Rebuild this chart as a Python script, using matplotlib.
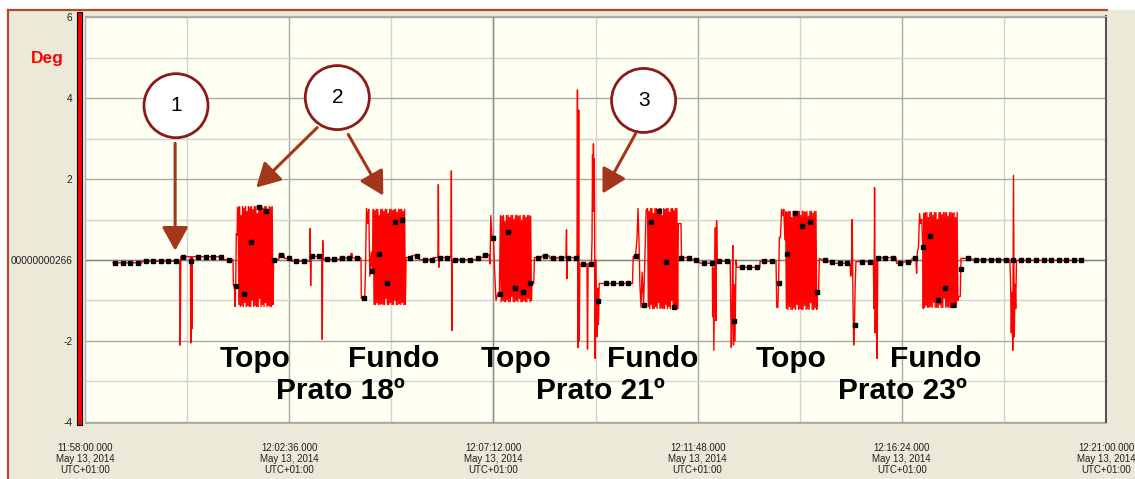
import numpy as np
import matplotlib
matplotlib.use('Agg')
import matplotlib.pyplot as plt
from matplotlib.patches import Rectangle, Ellipse
from matplotlib.lines import Line2D

plt.rcParams['font.family'] = ['Liberation Sans', 'DejaVu Sans']

# time in seconds after 11:58:00, value in Deg
seg_a = [(38, -0.07), (77, -0.07), (77.5, -0.03), (128, -0.03), (128.7, -2.10), (129.5, 0.08),
         (142.5, 0.08), (143, -2.05), (143.8, 0.08), (144.5, -1.70), (145.2, 0.08), (185, 0.08),
         (185.5, 0.01), (200, 0.01), (200.6, -0.63), (202, -0.65), (203, -1.15), (203.8, -0.50),
         (204.5, 0.65), (205.5, 0.60), (206.2, 1.30)]
seg_b = [(255, 0.01), (262, 0.01), (262.5, 0.13), (269, 0.13), (269.5, 0.04), (279, 0.04),
         (279.5, -0.03), (304, -0.03), (304.4, 0.78), (305, -0.63), (305.6, 0.09), (320, 0.09),
         (320.7, -1.96), (321.3, 0.48), (322, 0.02), (344, 0.02), (344.5, 0.05), (359, 0.05),
         (359.5, 0.16), (361, 0.16), (361.5, 0.05), (373, 0.05), (373.5, -0.95), (378, -0.95),
         (379, -0.30), (380.5, 1.27), (382, 0.90), (383.5, 1.25), (385, -0.40), (387, 0.20),
         (388.5, -0.26)]
seg_c = [(434, 0.06), (441, 0.06), (441.5, 0.11), (451, 0.11), (451.5, 0.01), (470, 0.01),
         (470.5, 0.06), (477, 0.06), (477.6, 1.86), (478.2, -0.18), (478.8, 0.06), (494.5, 0.06),
         (495.2, 2.20), (495.9, -1.74), (496.6, 0.01), (530, 0.01), (531, 0.06), (538, 0.06),
         (538.5, 0.13), (546, 0.13), (547.5, -0.10), (548.5, 1.10), (550, 0.55), (552, 0.55),
         (553.5, -0.20), (555.5, -1.00), (558, -0.83), (560, -0.90)]
seg_d = [(604, -0.58), (606.5, -0.58), (607.5, 0.06), (617, 0.06), (617.5, 0.10), (628, 0.10),
         (628.5, 0.04), (638, 0.04), (638.5, 0.06), (650, 0.06), (650.8, 0.75), (651.4, -0.46),
         (652, 0.06), (665, 0.06), (665.6, 4.20), (666.3, -2.16), (667.3, 3.70), (668, -2.00),
         (668.8, -0.10), (678.5, -0.10), (679.2, -2.20), (680, -0.09), (684.5, -0.09), (685.3, 0.50),
         (686, 2.60), (686.6, 1.20), (687.2, 2.87), (687.8, 1.80), (688.4, 2.50), (689, 0.30),
         (689.6, -2.43), (690.2, 0.00), (691, -1.00), (692, -1.90), (693, -0.70), (694, -1.60),
         (695, -0.58), (740, -0.58), (741, 0.09), (744, 0.09), (746, 0.50), (747.5, 1.27),
         (749, 0.30), (750, -0.60), (751.5, -1.17), (753, -0.30), (755, -1.10), (757, 0.20),
         (758.5, 1.25)]
seg_e = [(802, 0.90), (805.5, 0.90), (806.3, 0.06), (814, 0.06), (815, 0.03), (825, 0.01),
         (832, -0.08), (848, -0.08), (848.3, -1.40), (849, -0.20), (850, -2.23), (851, -0.30),
         (852, 0.80), (853, -1.50), (853.7, 0.97), (854.5, -0.03), (872, -0.03), (872.7, -1.00),
         (873.5, -2.16), (874.5, -1.50), (875.5, 0.36), (876.5, -2.10), (877.5, -0.60), (878.5, -2.00),
         (880, 0.00), (881, -0.18), (912, -0.18), (912.5, -0.03), (934, -0.03), (935, -1.17),
         (936.5, -1.17), (937.5, -0.58), (938.5, 0.56), (940, 0.56), (941.5, 1.25), (943, 1.10),
         (944.5, 1.25), (946, 0.50)]
seg_f = [(990, -0.80), (991.5, -0.80), (992.5, 0.04), (997, 0.00), (1005, -0.04), (1012, -0.08),
         (1034, -0.08), (1035, -0.40), (1036, -0.20), (1037, 1.00), (1038, -1.00), (1039, -2.10),
         (1040, -1.61), (1041, -0.60), (1042, -0.04), (1065.5, -0.04), (1066.5, -1.20), (1067.2, 1.79),
         (1068, -1.80), (1069, -0.40), (1070, 0.04), (1070.7, -2.43), (1071.5, 0.06), (1096, 0.06),
         (1097, -0.08), (1105, -0.08), (1106, -0.05), (1117, -0.05), (1118, 0.04), (1123, 0.04),
         (1124, -0.33), (1125, 0.20), (1126.5, 0.31), (1128, 1.15), (1129.5, 0.90), (1131, 1.00),
         (1132.4, 0.31), (1133, -1.20)]
seg_g = [(1181, -0.90), (1183, -0.90), (1184, 0.04), (1198, 0.04), (1199, 0.01), (1250, 0.01),
         (1251, -0.50), (1252, -1.80), (1253, -0.80), (1254, -2.23), (1255, 2.09), (1256, -1.90),
         (1257, -0.60), (1258, -1.20), (1259, -0.01), (1349, -0.01)]

# oscillation bursts (Topo / Fundo), start/end seconds and sample values
burst_spans = [(207, 254), (389.7, 433), (561.5, 603.4), (760.4, 801), (947, 989), (1133.8, 1179.8)]
b1 = [1.30, -1.10, 1.32, -1.15, 1.10, -1.12, 1.32, -1.15, 1.28, -1.05, 1.32, -1.15, 1.20, -1.13,
      1.32, -1.15, 1.30, -1.15, 1.32, -1.00, 1.25, -1.15, 1.32, -1.12, 1.32, -1.15, 1.15, -1.15,
      1.32, -0.95, 1.30, -1.15, 1.32, -1.10, 1.28, -1.15, 1.32, -1.05, 1.32, -1.15, 1.25, -1.12,
      1.32, -1.15, 1.30, -1.15, 1.32, -1.10]
b2 = [1.25, -1.10, 1.22, -1.10, 1.25, -1.05, 1.25, -1.10, 1.10, -1.10, 1.25, -1.08, 1.25, -1.10,
      1.20, -1.10, 1.25, -0.95, 1.25, -1.10, 1.15, -1.10, 1.25, -1.05, 1.25, -1.10, 1.22, -1.10,
      1.25, -1.00, 1.25, -1.10, 1.18, -1.10, 1.25, -1.08, 1.25, -1.10, 1.25, -1.05, 1.20, -1.10,
      1.25, -1.10]
b3 = [1.10, -1.03, 1.08, -1.00, 1.10, -1.03, 0.95, -1.03, 1.10, -0.98, 1.10, -1.03, 1.05, -1.03,
      1.10, -0.90, 1.10, -1.03, 1.00, -1.03, 1.10, -1.00, 1.10, -1.03, 1.08, -0.95, 1.10, -1.03,
      0.98, -1.03, 1.10, -1.00, 1.10, -1.03, 1.05, -1.03, 1.10, -0.95, 1.10, -1.03, 1.08, -1.00]
b4 = [1.27, -1.15, 1.20, -1.20, 1.27, -1.10, 1.27, -1.20, 1.15, -1.20, 1.27, -1.15, 1.27, -1.20,
      1.22, -1.05, 1.27, -1.20, 1.27, -1.18, 1.10, -1.20, 1.27, -1.20, 1.25, -1.10, 1.27, -1.20,
      1.27, -1.15, 1.18, -1.20, 1.27, -1.00, 1.27, -1.20, 1.22, -1.20, 1.27, -1.15, 1.27, -1.20]
b5 = [1.20, -1.20, 1.18, -1.22, 1.20, -1.15, 1.20, -1.22, 1.05, -1.22, 1.20, -1.18, 1.20, -1.22,
      1.15, -1.10, 1.20, -1.22, 1.20, -1.20, 1.10, -1.22, 1.20, -1.22, 1.20, -1.12, 1.18, -1.22,
      1.20, -1.20, 1.08, -1.22, 1.20, -1.05, 1.20, -1.22, 1.15, -1.22, 1.20, -1.18, 1.20, -1.22]
b6 = [1.15, -1.17, 1.17, -1.12, 1.17, -1.17, 1.05, -1.17, 1.17, -1.15, 1.17, -1.17, 1.10, -1.05,
      1.17, -1.17, 1.17, -1.17, 1.00, -1.17, 1.17, -1.10, 1.17, -1.17, 1.12, -1.17, 1.17, -0.95,
      1.17, -1.17, 1.17, -1.15, 1.08, -1.17, 1.17, -1.17, 1.17, -1.10, 1.15, -1.17, 1.17, -1.17,
      1.05, -1.17, 1.17, -1.00]

# black sample markers, one every 10.2 s starting at 41 s
marker_start, marker_step = 41, 10.2
marker_v = [-0.07, -0.07, -0.07, -0.07, -0.03, -0.03, -0.03, -0.03, -0.03, 0.07,
            -0.02, 0.08, 0.08, 0.08, 0.08, 0.01, -0.65, -0.83, 0.45, 1.30,
            1.20, 0.01, 0.13, 0.04, -0.03, -0.03, 0.09, 0.09, 0.02, 0.02,
            0.05, 0.05, 0.05, -0.95, -0.26, 0.16, -0.58, 0.93, 1.00, 0.06,
            0.11, 0.01, 0.01, 0.06, 0.06, 0.01, 0.01, 0.01, 0.06, 0.13,
            0.55, -0.83, 0.68, -0.68, -0.80, -0.58, 0.06, 0.09, 0.04, 0.06,
            0.06, 0.06, -0.11, -0.09, -1.02, -0.58, -0.58, -0.58, -0.58, 0.09,
            -1.10, 0.93, 1.20, -0.06, -1.17, 0.06, 0.04, 0.01, -0.08, -0.08,
            -0.03, -0.03, -1.50, -0.18, -0.18, -0.18, -0.03, -0.03, -0.58, 0.16,
            1.17, 0.85, 0.93, -0.80, -0.01, -0.06, -0.08, -0.08, -1.61, -0.04,
            -0.04, 0.04, 0.06, 0.06, -0.08, -0.06, 0.04, 0.31, 0.60, -1.00,
            -0.70, -1.10, -0.21, 0.04, 0.01, 0.01, 0.01, 0.01, 0.01, 0.01,
            -0.01, -0.01, -0.01, -0.01, -0.01, -0.01, -0.01, -0.01, -0.01]

xtick_times = ['11:58:00.000', '12:02:36.000', '12:07:12.000', '12:11:48.000', '12:16:24.000', '12:21:00.000']
ytick_vals = [-4, -2, 0, 2, 4, 6]
ytick_labels = ['-4', '-2', '00000000266', '2', '4', '6']

segments = [seg_a, seg_b, seg_c, seg_d, seg_e, seg_f, seg_g]
bursts = [b1, b2, b3, b4, b5, b6]

t_parts, v_parts = [], []
for i, seg in enumerate(segments):
    t_parts.append([p[0] for p in seg])
    v_parts.append([p[1] for p in seg])
    if i < len(bursts):
        a, b = burst_spans[i]
        t_parts.append(np.linspace(a, b, len(bursts[i])))
        v_parts.append(bursts[i])
trace_t = np.concatenate(t_parts)
trace_v = np.concatenate(v_parts)
marker_t = marker_start + marker_step * np.arange(len(marker_v))

W, H = 1135, 479
fig = plt.figure(figsize=(W / 100, H / 100), dpi=100, facecolor='white')
fig.patches.append(Rectangle((8 / W, 0), 1, 1 - 10 / H, transform=fig.transFigure,
                             facecolor='#ECE9D8', edgecolor='none', zorder=-5))
fig.add_artist(Line2D([8 / W, 8 / W], [0, 1 - 10 / H], color='#B34A2C', lw=1.6, zorder=-4))
fig.add_artist(Line2D([8 / W, 1107 / W], [1 - 10 / H, 1 - 10 / H], color='#B34A2C', lw=1.6, zorder=-4))

ax = fig.add_axes([85 / W, 1 - 423 / H, (1106 - 85) / W, (423 - 16) / H])
ax.set_zorder(1)
ax.set_facecolor('#FFFFF2')
ax.set_xlim(0, 1380)
ax.set_ylim(-4.025, 6.025)

ax.set_xticks(np.arange(0, 1381, 276))
ax.set_xticks(np.arange(138, 1380, 276), minor=True)
ax.set_xticklabels([s + '\nMay 13, 2014\nUTC+01:00' for s in xtick_times],
                   fontsize=7, color='#202020', linespacing=1.1)
ax.set_yticks(ytick_vals)
ax.set_yticks([-3, -1, 1, 3, 5], minor=True)
ax.set_yticklabels(ytick_labels, fontsize=7.3, color='#202020')
ax.tick_params(axis='x', which='both', length=0, pad=14.5)
ax.tick_params(axis='y', which='both', length=0, pad=9)
ax.grid(which='major', color='#A8A8A8', lw=1)
ax.grid(which='minor', color='#D2D2D2', lw=1)
ax.axhline(0, color='#858585', lw=1, zorder=1)
ax.axvline(552, color='#909090', lw=1, zorder=1)
ax.set_axisbelow(True)
for side in ['top', 'left', 'bottom']:
    ax.spines[side].set_color('#B0B0B0')
ax.spines['right'].set_color('#555555')
ax.spines['right'].set_linewidth(1.5)

# red value bar on the left
fig.patches.append(Rectangle((77 / W, 1 - 425 / H), 5 / W, 413 / H, transform=fig.transFigure,
                             facecolor='#FF0000', edgecolor='black', lw=0.8, zorder=3))
fig.text(47 / W, 1 - 58 / H, 'Deg', color='#FF0000', fontsize=12.5, fontweight='bold',
         ha='center', va='center')

ax.plot(trace_t, trace_v, color='#FF0000', lw=1.0, zorder=3)
ax.plot(marker_t, marker_v, 's', color='black', ms=2.2, zorder=4)

# Topo / Fundo / Prato captions
for x, txt in [(230, 'Topo'), (417, 'Fundo'), (582, 'Topo'), (767, 'Fundo'), (954, 'Topo'), (1150, 'Fundo')]:
    ax.text(x, -2.65, txt, fontsize=21.5, fontweight='bold', ha='center', va='baseline', zorder=6)
for x, txt in [(345, 'Prato 18º'), (697, 'Prato 21º'), (1105, 'Prato 23º')]:
    ax.text(x, -3.44, txt, fontsize=21.5, fontweight='bold', ha='center', va='baseline', zorder=6)

# numbered callouts with arrows
arrow_col = '#A3361B'
arrows = [((121.8, 2.88), (121.8, 0.23)), ((313.9, 3.27), (231.4, 1.79)),
          ((355.8, 3.10), (403.2, 1.59)), ((744.2, 3.12), (699.5, 1.64))]
for start, tip in arrows:
    ax.annotate('', xy=tip, xytext=start,
                arrowprops=dict(arrowstyle='-|>,head_width=0.5,head_length=0.9', color=arrow_col,
                                lw=2.2, shrinkA=0, shrinkB=0, mutation_scale=16), zorder=5)
for (cx, cy), num in [((123, 3.81), '1'), ((341, 4.01), '2'), ((755, 3.94), '3')]:
    ax.add_patch(Ellipse((cx, cy), 2 * 32 * 1.353, 2 * 32 / 40.5, facecolor='white',
                         edgecolor='#8B1A1A', lw=2, zorder=5))
    ax.text(cx, cy, num, fontsize=15, ha='center', va='center', zorder=6)

fig.savefig('out.png', dpi=100)
